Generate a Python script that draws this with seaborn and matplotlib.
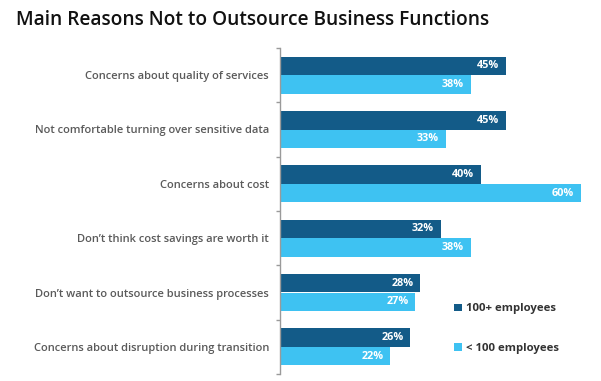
import matplotlib
matplotlib.use("Agg")
import matplotlib.pyplot as plt
import seaborn as sns
import pandas as pd
import numpy as np

categories = [
    "Concerns about quality of services",
    "Not comfortable turning over sensitive data",
    "Concerns about cost",
    "Don\u2019t think cost savings are worth it",
    "Don\u2019t want to outsource business processes",
    "Concerns about disruption during transition",
]
series_names = ["100+ employees", "< 100 employees"]
large = [45, 45, 40, 32, 28, 26]
small = [38, 33, 60, 38, 27, 22]
colors = ["#135b88", "#3ec2f2"]

df = pd.DataFrame({
    "category": categories * 2,
    "value": large + small,
    "series": [series_names[0]] * len(categories) + [series_names[1]] * len(categories),
})

sns.set_theme(style="white")
plt.rcParams["font.family"] = ["Open Sans", "DejaVu Sans"]

fig = plt.figure(figsize=(6.01, 3.81), dpi=100)
ax = fig.add_axes([280 / 601, 1 - 374 / 381, 321 / 601, 326 / 381])

sns.barplot(data=df, y="category", x="value", hue="series", order=categories,
            hue_order=series_names, palette=colors, orient="h", width=0.68,
            saturation=1, ax=ax, legend=True, linewidth=0)

ax.set_xlim(0, 64)
ax.set_ylim(len(categories) - 0.5, -0.5)
ax.set_xlabel("")
ax.set_ylabel("")
ax.set_xticks([])
for s in ["top", "right", "bottom"]:
    ax.spines[s].set_visible(False)
ax.spines["left"].set_color("#9a9a9a")
ax.spines["left"].set_linewidth(1.0)

ax.set_yticks(range(len(categories)))
ax.set_yticklabels(categories, fontsize=8.0, color="#5a5a5a", fontweight="semibold")
ax.tick_params(axis="y", which="major", length=0, pad=8)
ax.set_yticks(np.arange(-0.5, len(categories), 1.0), minor=True)
ax.tick_params(axis="y", which="minor", length=3, color="#9a9a9a", width=1, left=True)

for cont in ax.containers:
    labels = [f"{int(round(v))}%" for v in cont.datavalues]
    ax.bar_label(cont, labels=labels, padding=-5, label_type="edge",
                 color="white", fontsize=7.8, fontweight="bold")
for t in ax.texts:
    t.set_ha("right")

leg = ax.legend(loc="lower left", bbox_to_anchor=(0.51, 0.03), frameon=False,
                handlelength=0.7, handleheight=0.7, handletextpad=0.4,
                labelspacing=2.5, fontsize=8.2)
for t in leg.get_texts():
    t.set_color("#333333")
    t.set_fontweight("bold")

fig.text(16 / 601, 1 - 20 / 381, "Main Reasons Not to Outsource Business Functions",
         fontsize=13.8, fontweight="semibold", color="#111111", va="center", ha="left")

fig.savefig("out.png", dpi=100)
